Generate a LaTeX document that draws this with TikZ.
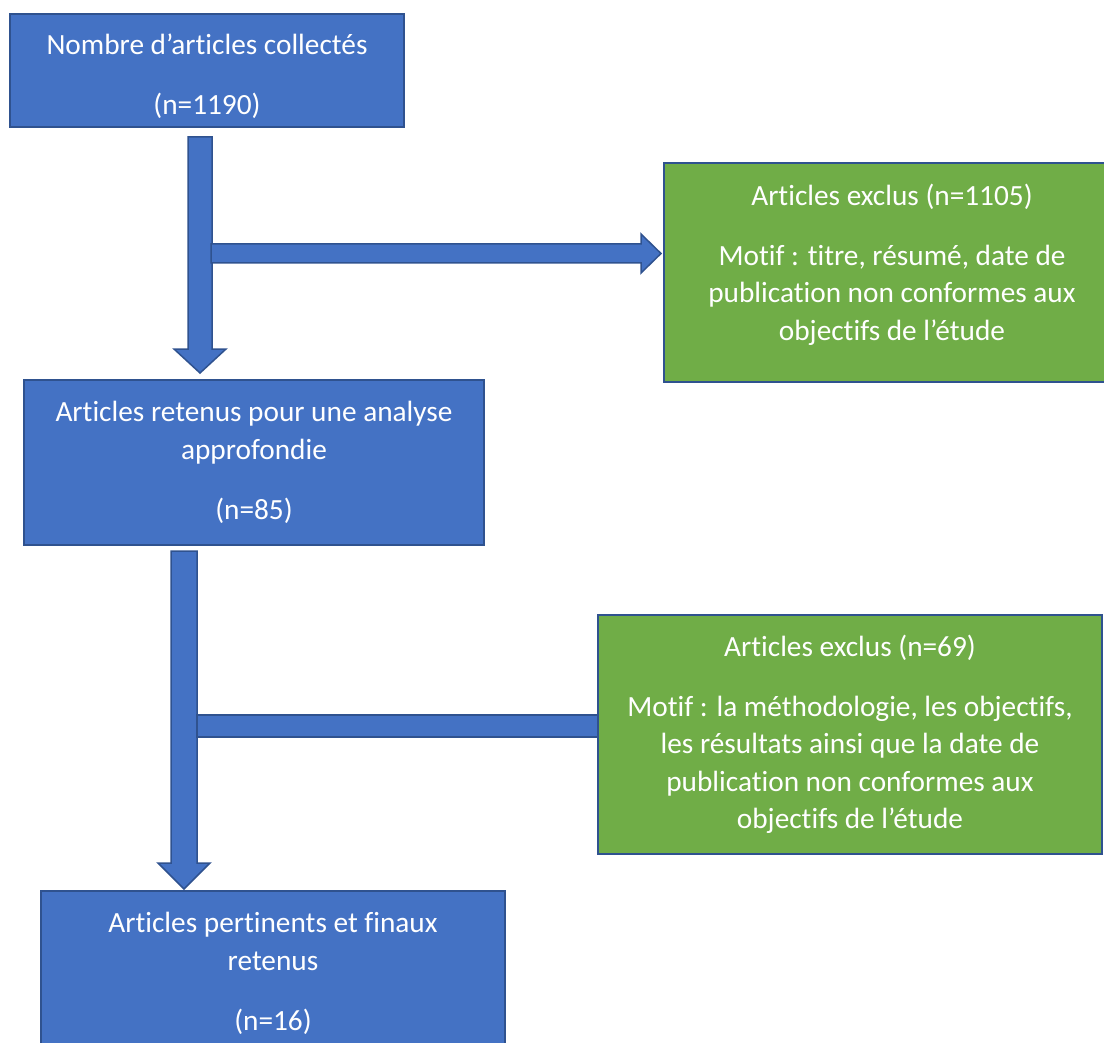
\documentclass[tikz,border=0pt]{standalone}
\usepackage{fontspec}
\setmainfont{Carlito}[Ligatures=NoCommon]
\definecolor{bfill}{HTML}{4472C4}
\definecolor{bline}{HTML}{2F528F}
\definecolor{gfill}{HTML}{70AD47}
\tikzset{
  box/.style={draw=bline, line width=1.5pt, fill=bfill, inner sep=0pt},
  gbox/.style={box, fill=gfill},
  boxtext/.style={text=white, align=center, inner sep=0pt,
    font=\fontsize{29.3}{37.5}\selectfont},
  blockarrow/.style={draw=bline, line width=1.5pt, fill=bfill, line join=miter},
}
\begin{document}
\begin{tikzpicture}[x=1pt,y=-1pt]
\useasboundingbox (0,0) rectangle (1104,1043);
% block arrows
\draw[blockarrow] (188,137) -- (212,137) -- (212,349) -- (226,349) -- (200,373) -- (174,349) -- (188,349) -- cycle;
\draw[blockarrow] (211,244) -- (641,244) -- (641,234) -- (661,253.5) -- (641,273) -- (641,263) -- (211,263) -- cycle;
\draw[blockarrow] (171,551) -- (197,551) -- (197,863) -- (210,863) -- (184,889) -- (158,863) -- (171,863) -- cycle;
\draw[blockarrow] (197,715) rectangle (605,737);
% boxes
\node[box, minimum width=394pt, minimum height=113pt] (b1) at (207,70.5) {};
\node[boxtext, yshift=-6pt] (t1) at (b1.center)
  {Nombre d’articles collectés\\[22.5pt](n=1190)};
\node[gbox, minimum width=456pt, minimum height=219pt] (g1) at (892,272.5) {};
\node[boxtext, yshift=8pt] (tg1) at (g1.center)
  {Articles exclus (n=1105)\\[22.5pt]Motif : titre, résumé, date de\\publication non conformes aux\\objectifs de l’étude};
\node[box, minimum width=460pt, minimum height=165pt] (b2) at (254,462.5) {};
\node[boxtext] (t2) at (b2.center)
  {Articles retenus pour une analyse\\approfondie\\[22.5pt](n=85)};
\node[gbox, minimum width=504pt, minimum height=239pt] (g2) at (850,734.5) {};
\node[boxtext] (tg2) at (g2.center)
  {Articles exclus (n=69)\\[22.5pt]Motif : la méthodologie, les objectifs,\\les résultats ainsi que la date de\\publication non conformes aux\\objectifs de l’étude};
\node[box, minimum width=464pt, minimum height=165pt] (b3) at (273,973.5) {};
\node[boxtext] (t3) at (b3.center)
  {Articles pertinents et finaux\\retenus\\[22.5pt](n=16)};
\end{tikzpicture}
\end{document}
